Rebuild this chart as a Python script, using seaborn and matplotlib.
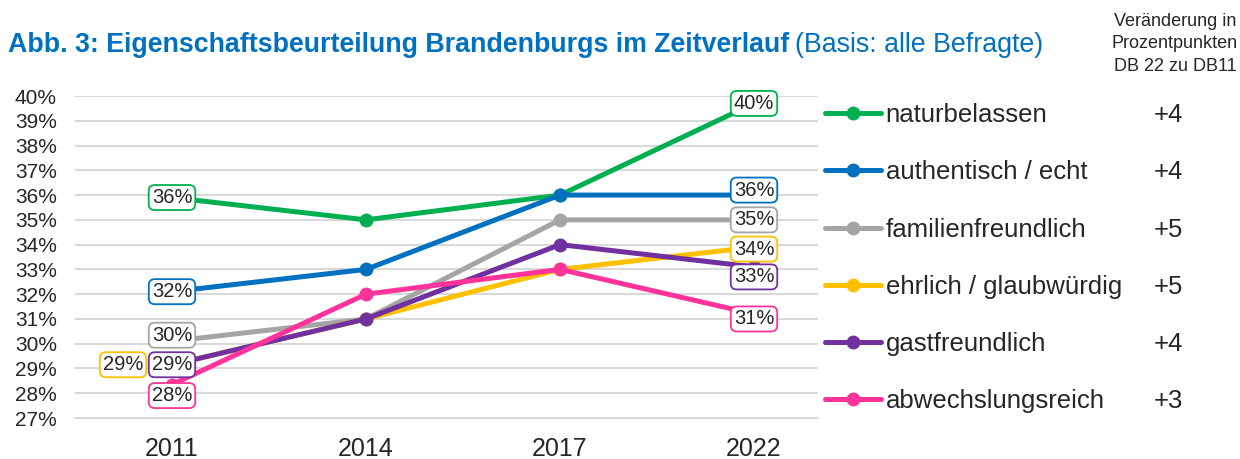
import numpy as np
import pandas as pd
import matplotlib.pyplot as plt
import seaborn as sns

# Werte
jahre = ["2011", "2014", "2017", "2022"]
naturbelassen = [35.9, 35.0, 36.0, 39.7]
authentisch = [32.1, 33.0, 36.0, 36.0]
familienfreundlich = [30.1, 31.0, 35.0, 35.0]
ehrlich = [29.15, 31.0, 33.0, 33.9]
gastfreundlich = [29.15, 31.0, 34.0, 33.1]
abwechslungsreich = [28.35, 32.0, 33.0, 31.2]
namen = ["naturbelassen", "authentisch / echt", "familienfreundlich",
         "ehrlich / glaubwürdig", "gastfreundlich", "abwechslungsreich"]
veraenderung = ["+4", "+4", "+5", "+5", "+4", "+3"]
farben = ["#00B050", "#0070C0", "#A5A5A5", "#FFC000", "#7030A0", "#FF3399"]

reihen = [naturbelassen, authentisch, familienfreundlich, ehrlich,
          gastfreundlich, abwechslungsreich]
df = pd.DataFrame([(n, i, w) for n, r in zip(namen, reihen)
                   for i, w in enumerate(r)], columns=["Eigenschaft", "x", "Wert"])

# Label-Versatz (Pixel) fuer 2011 und 2022
off_2011 = [(0, 0), (0, 0), (0, 6), (-49, 0), (0, 0), (0, -11)]
off_2022 = [(0, 0), (0, 5), (0, 0), (0, -2), (0, -10), (0, -5)]

sns.set_style("white")
plt.rcParams["font.family"] = ["Liberation Sans", "DejaVu Sans"]

fig = plt.figure(figsize=(12.4, 4.59), dpi=100)
ax = fig.add_axes([75 / 1240, 1 - 418 / 459, 743 / 1240, 322 / 459])

sns.lineplot(data=df, x="x", y="Wert", hue="Eigenschaft", palette=farben,
             hue_order=namen, marker="o", markersize=10, markeredgewidth=0,
             linewidth=3.6, ax=ax, legend=True)

for k, (r, c) in enumerate(zip(reihen, farben)):
    for i, off in ((0, off_2011[k]), (3, off_2022[k])):
        ax.annotate(f"{r[i]:.0f}%", (i, r[i]), xytext=(off[0] * 0.72, off[1] * 0.72),
                    textcoords="offset points", ha="center", va="center",
                    fontsize=14.5, zorder=10,
                    bbox=dict(boxstyle="round,pad=0.15,rounding_size=0.3",
                              fc="white", ec=c, lw=1.3))

ax.set_ylim(27, 40)
ax.set_xlim(-0.5, 3.33)
ax.set_yticks(np.arange(27, 41))
ax.set_yticklabels([f"{v}%" for v in range(27, 41)], fontsize=15)
ax.set_xticks(range(4))
ax.set_xticklabels(jahre, fontsize=18)
ax.set_xticks([-0.5, 0.5, 1.5, 2.5], minor=True)
ax.tick_params(axis="x", which="major", length=0, pad=14)
ax.tick_params(axis="x", which="minor", length=11, width=1.5,
               direction="inout", color="#D9D9D9")
ax.tick_params(axis="y", length=0, pad=13)
ax.grid(axis="y", color="#D9D9D9", lw=1.5)
ax.set_axisbelow(True)
for s in ["top", "right", "left"]:
    ax.spines[s].set_visible(False)
ax.spines["bottom"].set_color("#D9D9D9")
ax.spines["bottom"].set_linewidth(1.5)
ax.set_xlabel("")
ax.set_ylabel("")

handles, labels = ax.get_legend_handles_labels()
ax.get_legend().remove()
leg = fig.legend(handles, labels, loc="upper left",
                 bbox_to_anchor=(815 / 1240, 1 - 93 / 459), frameon=False,
                 fontsize=18.5, handlelength=2.15, handletextpad=0.2,
                 labelspacing=1.29, borderaxespad=0)
for h in leg.legend_handles:
    h.set_linewidth(3.6)

fig.canvas.draw()
inv = fig.transFigure.inverted()
for t, v in zip(leg.get_texts(), veraenderung):
    bb = t.get_window_extent()
    y = inv.transform((0, (bb.y0 + bb.y1) / 2))[1]
    fig.text(1168 / 1240, y, v, ha="center", va="center", fontsize=18.5)

fig.text(1175 / 1240, 1 - 13 / 459, "Veränderung in\nProzentpunkten\nDB 22 zu DB11",
         ha="center", va="top", fontsize=13, linespacing=1.42)

fig.text(8 / 1240, 1 - 45 / 459, "Abb. 3: Eigenschaftsbeurteilung Brandenburgs im Zeitverlauf",
         color="#0070C0", fontsize=19.3, fontweight="bold", va="center")
fig.canvas.draw()
tb = fig.texts[-1].get_window_extent()
fig.text(inv.transform((tb.x1 + 6, 0))[0], 1 - 45 / 459, "(Basis: alle Befragte)",
         color="#0070C0", fontsize=19.3, va="center")

fig.savefig("out.png", dpi=100)
